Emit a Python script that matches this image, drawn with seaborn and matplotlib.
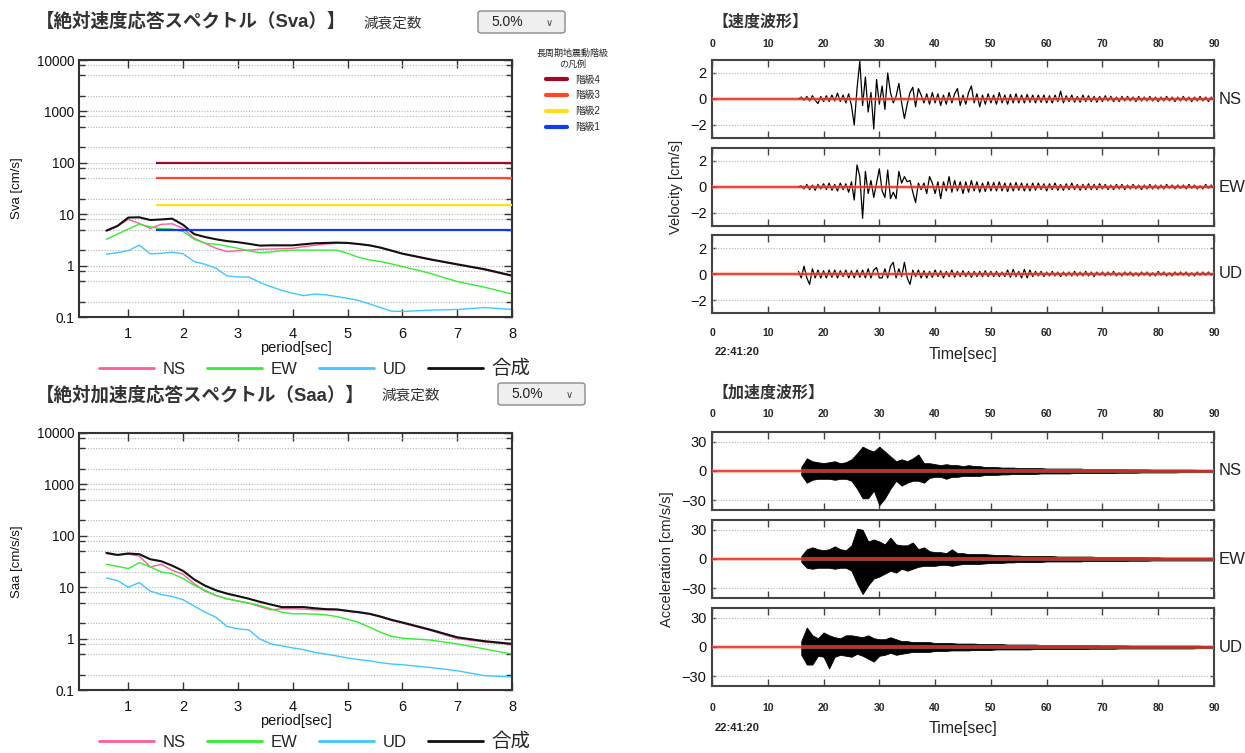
"""
Long-period ground motion report: absolute response spectra (Sva / Saa)
and three-component velocity / acceleration waveforms.
"""
import numpy as np
import pandas as pd
import matplotlib
matplotlib.use('Agg')
import matplotlib.pyplot as plt
import seaborn as sns
from matplotlib.lines import Line2D
from matplotlib.patches import FancyBboxPatch
from matplotlib.ticker import FixedLocator, NullFormatter

sns.set_style('ticks')
plt.rcParams['font.family'] = ['Liberation Sans', 'Noto Sans CJK JP', 'DejaVu Sans']

# --- 1. spectra (period [s] -> response) ---
periods = [0.6, 0.8, 1.0, 1.2, 1.4, 1.6, 1.8, 2.0, 2.2, 2.4, 2.6, 2.8, 3.0, 3.2, 3.4, 3.6,
           3.8, 4.0, 4.2, 4.4, 4.6, 4.8, 5.0, 5.2, 5.4, 5.6, 5.8, 6.0, 6.5, 7.0, 7.5, 8.0]

sva_ns = [4.7, 5.8, 7.9, 6.6, 5.3, 6.35, 6.5, 5.3, 3.4, 2.72, 2.17, 1.87, 1.96, 2.0, 2.08, 2.1,
          2.13, 2.17, 2.34, 2.48, 2.63, 2.72, 2.74, 2.62, 2.46, 2.22, 1.94, 1.69, 1.31, 1.04, 0.83, 0.62]
sva_ew = [3.25, 4.1, 5.15, 6.4, 5.7, 5.2, 5.15, 4.6, 3.25, 2.72, 2.6, 2.4, 2.17, 1.93, 1.79, 1.84,
          1.96, 2.0, 2.0, 2.0, 2.0, 2.0, 1.74, 1.45, 1.29, 1.2, 1.08, 0.96, 0.71, 0.49, 0.38, 0.28]
sva_ud = [1.66, 1.79, 1.96, 2.5, 1.7, 1.73, 1.82, 1.7, 1.2, 1.06, 0.89, 0.63, 0.6, 0.6, 0.47, 0.39,
          0.33, 0.29, 0.26, 0.28, 0.27, 0.25, 0.23, 0.21, 0.18, 0.153, 0.13, 0.128, 0.136, 0.14, 0.153, 0.14]
sva_sum = [4.8, 5.9, 8.6, 8.7, 7.7, 7.9, 8.2, 6.2, 4.1, 3.6, 3.25, 3.0, 2.85, 2.65, 2.45, 2.48,
           2.48, 2.48, 2.6, 2.72, 2.76, 2.8, 2.76, 2.63, 2.48, 2.24, 1.96, 1.71, 1.33, 1.06, 0.85, 0.64]

saa_ns = [45, 42, 44, 40, 24.8, 27.9, 21.3, 17.8, 11.7, 8.4, 6.9, 5.96, 5.4, 4.9, 4.2, 3.63,
          3.8, 3.8, 3.75, 3.63, 3.63, 3.6, 3.4, 3.2, 2.98, 2.62, 2.26, 2.0, 1.45, 1.0, 0.86, 0.77]
saa_ew = [27.9, 25.5, 23, 30.1, 24.8, 19.8, 18.4, 14.7, 10.9, 8.7, 6.9, 5.96, 5.37, 4.9, 4.4, 3.8,
          3.27, 3.04, 3.04, 3.0, 2.9, 2.69, 2.39, 2.06, 1.67, 1.33, 1.11, 1.02, 0.94, 0.79, 0.63, 0.5]
saa_ud = [15.1, 13.5, 10, 12.3, 8.4, 7.2, 6.6, 5.7, 4.3, 3.25, 2.6, 1.72, 1.55, 1.48, 0.98, 0.79,
          0.72, 0.66, 0.61, 0.54, 0.5, 0.46, 0.42, 0.39, 0.37, 0.34, 0.32, 0.31, 0.275, 0.237, 0.19, 0.18]
saa_sum = [46.5, 42.5, 45.2, 43.8, 35, 32, 26.3, 20.7, 14.2, 10.7, 8.7, 7.5, 6.7, 5.96, 5.2, 4.6,
           4.1, 4.1, 4.1, 3.9, 3.74, 3.7, 3.47, 3.27, 3.04, 2.69, 2.32, 2.06, 1.5, 1.06, 0.89, 0.79]

comp_names = ['NS', 'EW', 'UD', '合成']
comp_colors = ['#ff5c9d', '#33ee33', '#3fc8ff', '#111111']

# long-period ground motion class thresholds (Sva)
class_names = ['階級4', '階級3', '階級2', '階級1']
class_levels = [100, 50, 15, 5]
class_colors = ['#a00a28', '#ff4626', '#ffe119', '#0f3cf0']
class_from = 1.5

# --- 2. waveforms ---
vel_t = np.arange(15.5, 90.01, 0.5)   # sample times of the velocity values below
vel_ns = [0, 0.15, -0.1, 0.2, -0.15, 0.25, -0.1, -0.35, 0.2, -0.2,
          0.25, -0.2, 0.3, -0.15, 0.45, -0.2, 0.3, -0.3, 0.4, -0.5,
          -2.0, 0.8, 2.9, -0.5, 1.7, -1.0, 0.5, -2.3, 1.5, -0.4,
          1.0, -0.8, 2.0, 0.5, -0.3, 0.2, 1.2, -0.3, -1.5, -0.4,
          0.5, 0.9, -0.6, 0.8, 0.3, -0.3, 0.4, -0.4, 0.5, -0.3,
          0.4, -0.5, 0.3, -0.4, 0.5, -0.3, 0.4, 0.8, -0.5, 0.3,
          -0.4, 0.5, 1.0, -0.3, 0.4, -0.6, 0.3, -0.4, 0.4, -0.3,
          0.3, -0.4, 0.5, -0.3, 0.3, -0.4, 0.35, -0.3, 0.4, -0.3,
          0.3, -0.3, 0.35, -0.25, 0.3, -0.3, 0.3, -0.25, 0.3, -0.3,
          0.25, -0.3, 0.3, -0.2, 0.6, -0.3, 0.25, -0.2, 0.3, -0.25,
          0.2, -0.25, 0.3, -0.2, 0.25, -0.2, 0.2, -0.25, 0.2, -0.2,
          0.25, -0.15, 0.2, -0.2, 0.15, -0.2, 0.2, -0.15, 0.2, -0.15,
          0.15, -0.2, 0.2, -0.15, 0.15, -0.15, 0.2, -0.15, 0.15, -0.2,
          0.15, -0.15, 0.2, -0.15, 0.15, -0.2, 0.15, -0.15, 0.2, -0.15,
          0.15, -0.2, 0.15, -0.15, 0.2, -0.15, 0.15, -0.2, 0.15, -0.1]
vel_ew = [0, 0.1, -0.15, 0.2, -0.2, 0.15, -0.25, 0.2, -0.15, 0.25,
          -0.2, 0.3, -0.25, 0.2, -0.3, 0.3, -0.2, 0.25, -0.4, 0.4,
          -1.0, 1.7, 0.8, -2.4, 1.2, -0.5, 0.5, -0.8, 0.3, 1.4,
          -0.3, -0.8, 1.3, -0.9, -0.4, -0.9, 1.2, 0.3, 0.8, 0.4,
          0.5, -0.4, -1.2, 0.3, -0.2, 0.3, -0.5, 0.8, 0.3, -0.5,
          0.4, -0.9, 0.4, -0.3, 0.8, -0.4, 0.5, -0.3, 0.4, -0.5,
          0.4, -0.4, 0.5, -0.3, 0.4, -0.4, 0.3, -0.35, 0.4, -0.3,
          0.35, -0.3, 0.4, -0.3, 0.3, -0.35, 0.3, -0.3, 0.35, -0.25,
          0.3, -0.3, 0.25, -0.3, 0.3, -0.25, 0.3, -0.2, 0.25, -0.3,
          0.25, -0.2, 0.3, -0.25, 0.2, -0.25, 0.25, -0.2, 0.3, -0.2,
          0.2, -0.25, 0.2, -0.2, 0.25, -0.2, 0.2, -0.2, 0.25, -0.15,
          0.2, -0.2, 0.15, -0.2, 0.2, -0.15, 0.2, -0.2, 0.15, -0.15,
          0.2, -0.15, 0.15, -0.2, 0.15, -0.15, 0.2, -0.15, 0.15, -0.15,
          0.15, -0.15, 0.2, -0.1, 0.15, -0.15, 0.15, -0.1, 0.15, -0.15,
          0.2, -0.1, 0.15, -0.15, 0.1, -0.15, 0.2, -0.1, 0.15, -0.1]
vel_ud = [0.2, -0.3, 0.6, -0.3, -0.8, 0.4, -0.3, 0.3, -0.3, 0.25,
          -0.3, 0.3, -0.25, 0.3, -0.3, 0.25, -0.2, 0.3, -0.3, 0.25,
          -0.3, 0.3, -0.25, 0.3, -0.3, 0.4, -0.3, 0.3, 0.5, -0.3,
          -0.3, 0.4, -0.3, 0.6, 0.9, -0.3, 0.4, -0.2, 0.9, -0.3,
          -0.8, 0.3, -0.2, 0.3, -0.3, 0.25, -0.3, 0.2, -0.25, 0.3,
          -0.2, 0.25, -0.3, 0.2, -0.2, 0.3, -0.25, 0.2, -0.2, 0.25,
          -0.2, 0.2, -0.25, 0.2, -0.2, 0.2, -0.2, 0.25, -0.2, 0.2,
          -0.2, 0.2, -0.2, 0.15, -0.2, 0.3, -0.25, 0.35, -0.2, 0.2,
          -0.3, 0.35, -0.3, 0.3, -0.2, 0.2, -0.15, 0.2, -0.2, 0.15,
          -0.15, 0.2, -0.15, 0.15, -0.2, 0.15, -0.15, 0.15, -0.15, 0.2,
          -0.15, 0.15, -0.15, 0.2, -0.15, 0.15, -0.2, 0.15, -0.1, 0.15,
          -0.15, 0.15, -0.1, 0.2, -0.15, 0.1, -0.15, 0.15, -0.1, 0.15,
          -0.15, 0.1, -0.15, 0.15, -0.1, 0.15, -0.15, 0.1, -0.15, 0.2,
          -0.1, 0.15, -0.15, 0.1, -0.15, 0.15, -0.1, 0.15, -0.1, 0.15,
          -0.15, 0.1, -0.15, 0.15, -0.1, 0.15, -0.1, 0.15, -0.1, 0.1]

# acceleration: upper / lower envelope of the trace, one value per second
acc_t = np.arange(16, 90.01, 1.0)
acc_ns_hi = [4, 13, 10, 9, 8, 9, 10, 8, 9, 12,
             18, 25, 22, 20, 25, 20, 15, 10, 12, 10,
             13, 17, 8, 8, 7, 6, 7, 6, 6, 5,
             6, 5, 5, 4, 4, 4, 3.5, 3.5, 3.5, 3,
             3, 3, 3, 3, 2.5, 2.5, 2.5, 2.5, 2.5, 2.5,
             2.5, 2, 2, 2, 2, 2, 2, 2, 2, 1.8,
             1.8, 1.8, 1.8, 1.5, 1.5, 1.5, 1.5, 1.5, 1.5, 1.5,
             1.5, 1.2, 1.2, 1.2, 1.2]
acc_ns_lo = [-4, -12, -9, -8, -8, -8, -9, -8, -8, -10,
             -18, -28, -28, -20, -35, -28, -18, -10, -15, -12,
             -10, -10, -12, -7, -6, -6, -8, -6, -6, -5,
             -5, -5, -5, -4, -4, -4, -3.5, -3.5, -3, -3,
             -3, -3, -3, -2.5, -2.5, -2.5, -2.5, -2.5, -2.5, -2,
             -2, -2, -2, -2, -2, -2, -2, -1.8, -1.8, -1.8,
             -1.8, -1.5, -1.5, -1.5, -1.5, -1.5, -1.5, -1.5, -1.2, -1.2,
             -1.2, -1.2, -1.2, -1.2, -1.2]
acc_ew_hi = [3, 10, 12, 10, 9, 10, 13, 10, 9, 14,
             31, 30, 18, 20, 18, 15, 22, 15, 14, 14,
             17, 10, 12, 8, 7, 7, 6, 10, 6, 6,
             5, 5, 5, 5, 4.5, 4, 4, 4, 3.5, 3.5,
             3, 3, 3, 3, 3, 3, 2.5, 2.5, 2.5, 2.5,
             2.5, 2.5, 2.5, 2, 2, 2, 2, 2, 2, 2,
             2, 2, 1.8, 1.8, 1.8, 1.5, 1.5, 1.5, 1.5, 1.5,
             1.5, 1.5, 1.5, 1.5, 1.5]
acc_ew_lo = [-3, -9, -10, -9, -9, -9, -10, -9, -9, -12,
             -25, -36, -27, -20, -18, -15, -12, -14, -10, -12,
             -10, -8, -7, -7, -7, -6, -6, -7, -6, -5,
             -5, -5, -5, -4.5, -4, -4, -4, -3.5, -3.5, -3,
             -3, -3, -3, -3, -2.5, -2.5, -2.5, -2.5, -2.5, -2.5,
             -2.5, -2, -2, -2, -2, -2, -2, -2, -2, -1.8,
             -1.8, -1.8, -1.8, -1.5, -1.5, -1.5, -1.5, -1.5, -1.5, -1.5,
             -1.5, -1.5, -1.5, -1.5, -1.5]
acc_ud_hi = [6, 20, 12, 9, 15, 12, 10, 9, 12, 12,
             11, 10, 12, 9, 8, 8, 10, 8, 6, 6,
             5, 5, 5, 5, 4, 4, 4, 4, 3.5, 3.5,
             3.5, 3.5, 3, 3, 3, 3, 3, 2.5, 2.5, 2.5,
             2.5, 2.5, 2.5, 2, 2, 2, 2, 2, 2, 2,
             2, 2, 2, 2, 1.8, 1.8, 1.8, 1.8, 1.8, 1.5,
             1.5, 1.5, 1.5, 1.5, 1.5, 1.5, 1.5, 1.5, 1.5, 1.5,
             1.5, 1.5, 1.2, 1.2, 1.2]
acc_ud_lo = [-8, -18, -18, -9, -10, -22, -10, -8, -9, -10,
             -7, -9, -12, -15, -9, -8, -6, -8, -7, -6,
             -5, -5, -5, -5, -4, -4, -4, -3.5, -3.5, -3.5,
             -3.5, -3, -3, -3, -3, -2.5, -2.5, -2.5, -2.5, -2.5,
             -2.5, -2.5, -2, -2, -2, -2, -2, -2, -2, -2,
             -2, -2, -1.8, -1.8, -1.8, -1.8, -1.8, -1.5, -1.5, -1.5,
             -1.5, -1.5, -1.5, -1.5, -1.5, -1.5, -1.5, -1.5, -1.5, -1.5,
             -1.5, -1.2, -1.2, -1.2, -1.2]

time_ticks = list(range(0, 91, 10))
start_clock = '22:41:20'

TXT = '#333333'
fig = plt.figure(figsize=(12.45, 7.53), dpi=100)


def fx(px):
    return px / 1245


def fy(py):
    return 1 - py / 753


def dropdown(x0, y0):
    box = FancyBboxPatch((fx(x0), fy(y0 + 22)), fx(87), 22 / 753,
                         boxstyle='round,pad=0,rounding_size=0.003',
                         transform=fig.transFigure, fc='#efefef', ec='#8a8a8a', lw=1)
    fig.patches.append(box)
    fig.text(fx(x0 + 29), fy(y0 + 11), '5.0%', fontsize=10, ha='center', va='center', color='#222')
    fig.text(fx(x0 + 71), fy(y0 + 12), '∨', fontsize=7, ha='center', va='center', color='#444',
             family='DejaVu Sans')


def draw_spectrum(rect, series, ylabel):
    ax = fig.add_axes(rect)
    for name, color, vals in zip(comp_names, comp_colors, series):
        sns.lineplot(x=periods, y=vals, color=color, lw=1.5 if name == '合成' else 1.0, ax=ax)
    ax.set_yscale('log')
    ax.set_xlim(0.1, 8.0)
    ax.set_ylim(0.1, 10000)
    ax.set_xticks(range(1, 9))
    ax.yaxis.set_major_locator(FixedLocator([0.1, 1, 10, 100, 1000, 10000]))
    ax.set_yticklabels(['0.1', '1', '10', '100', '1000', '10000'])
    minor = [m * 10.0 ** e for e in range(-1, 4) for m in (2, 5, 8)]
    ax.yaxis.set_minor_locator(FixedLocator(minor))
    ax.yaxis.set_minor_formatter(NullFormatter())
    ax.grid(axis='y', which='both', color='#b5b5b5', ls=(0, (1, 1.5)), lw=0.8)
    ax.tick_params(which='both', direction='in', top=True, right=True, color='#333',
                   labelcolor='#111')
    ax.tick_params(axis='x', pad=7, labelsize=10.5)
    ax.tick_params(axis='y', labelsize=9.8)
    ax.tick_params(which='major', length=6, width=1)
    ax.tick_params(which='minor', length=4, width=1)
    for sp in ax.spines.values():
        sp.set_color('#333')
        sp.set_linewidth(1.5)
    ax.set_xlabel('period[sec]', fontsize=10.5, labelpad=0, color='#111')
    ax.set_ylabel(ylabel, fontsize=9.5, color='#111')
    ax.yaxis.set_label_coords(-0.129, 0.5)
    handles = [Line2D([], [], color=c, lw=2) for c in comp_colors]
    leg = ax.legend(handles, comp_names, loc='center', bbox_to_anchor=(0.545, -0.2), ncol=4,
                    frameon=False, fontsize=12, handlelength=3.3, handletextpad=0.5,
                    columnspacing=1.3)
    leg.get_texts()[3].set_fontsize(14)
    return ax


# --- spectra ---
ax_sva = draw_spectrum([fx(79), fy(317), fx(433), 257 / 753], [sva_ns, sva_ew, sva_ud, sva_sum],
                       'Sva [cm/s]')
ax_sva.hlines(class_levels, class_from, 8.0, colors=class_colors, lw=1.6, zorder=3)
class_handles = [Line2D([], [], color=c, lw=3) for c in class_colors]
cleg = fig.legend(class_handles, class_names, loc='upper left', bbox_to_anchor=(fx(532), fy(44)),
                  frameon=False, fontsize=7, title='長周期地震動階級\nの凡例', title_fontsize=6.5,
                  handlelength=2.2, handletextpad=0.8, labelspacing=0.6, borderpad=0)
cleg.get_title().set_multialignment('center')

ax_saa = draw_spectrum([fx(79), fy(690), fx(433), 257 / 753], [saa_ns, saa_ew, saa_ud, saa_sum],
                       'Saa [cm/s/s]')

fig.text(fx(36), fy(22), '【絶対速度応答スペクトル（Sva）】', fontsize=13.3, weight='bold',
         va='center', color=TXT)
fig.text(fx(363), fy(24), '減衰定数', fontsize=10.5, va='center', color=TXT)
dropdown(478, 11)
fig.text(fx(36), fy(395), '【絶対加速度応答スペクトル（Saa）】', fontsize=13.3, weight='bold',
         va='center', color=TXT)
fig.text(fx(381), fy(396), '減衰定数', fontsize=10.5, va='center', color=TXT)
dropdown(498, 383)


# --- waveforms ---
def wave_panel(top_px, ylim, yticks):
    ax = fig.add_axes([fx(712), fy(top_px + 78), fx(502), 78 / 753])
    ax.set_xlim(0, 90)
    ax.set_ylim(-ylim, ylim)
    ax.set_yticks(yticks)
    ax.set_yticklabels([str(v).replace('-', '\u2212') for v in yticks])
    ax.set_xticks(time_ticks, labels=[str(v) for v in time_ticks], fontsize=7.5,
                  fontweight='bold')
    for v in (yticks[0], yticks[-1]):
        ax.axhline(v, color='#b5b5b5', ls=(0, (1, 1.5)), lw=0.8, zorder=1)
    ax.axhline(0, color='#ff8a7a', lw=3, alpha=0.5, zorder=3)
    ax.axhline(0, color='#e0251b', lw=1.1, zorder=4)
    ax.tick_params(axis='x', direction='in', top=True, bottom=True, length=5, width=1,
                   color='#444', labelbottom=False, labeltop=False, pad=8)
    ax.tick_params(axis='y', direction='in', left=True, right=True, length=3, width=1,
                   color='#444', labelsize=10.5, labelcolor='#111', pad=4)
    for sp in ax.spines.values():
        sp.set_color('#444')
        sp.set_linewidth(1.5)
    return ax


def wave_group(tops, ylim, yticks, traces, kind, title, title_py, ylabel, label_x,
               top_pad, bottom_pad, clock_py):
    axes = [wave_panel(tp, ylim, yticks) for tp in tops]
    for ax, name, tr in zip(axes, ['NS', 'EW', 'UD'], traces):
        if kind == 'line':
            sns.lineplot(x=vel_t, y=tr, color='black', lw=0.9, ax=ax, zorder=2)
        else:
            ax.fill_between(acc_t, tr[1], tr[0], color='black', lw=0.6, zorder=2)
        ax.text(1.01, 0.5, name, transform=ax.transAxes, ha='left', va='center',
                fontsize=12, color='#222')
    axes[0].tick_params(axis='x', labeltop=True, pad=top_pad)
    axes[-1].tick_params(axis='x', labelbottom=True, pad=bottom_pad)
    axes[-1].set_xlabel('Time[sec]', fontsize=11.5, color='#222', labelpad=6)
    axes[-1].xaxis.label.set_visible(True)
    axes[1].set_ylabel(ylabel, fontsize=10.5, color='#222')
    axes[1].yaxis.label.set_visible(True)
    axes[1].yaxis.set_label_coords(label_x, 0.5)
    fig.text(fx(712), fy(title_py), title, fontsize=11.5, weight='bold', va='center', color=TXT)
    fig.text(fx(737), fy(clock_py), start_clock, fontsize=8, weight='bold',
             ha='center', va='center', color='#222')
    return axes


wave_group([60, 148, 235], 3, [-2, 0, 2], [vel_ns, vel_ew, vel_ud], 'line',
           '【速度波形】', 22, 'Velocity [cm/s]', -0.058, 8, 11, 352)
wave_group([432, 520, 608], 40, [-30, 0, 30],
           [(acc_ns_hi, acc_ns_lo), (acc_ew_hi, acc_ew_lo), (acc_ud_hi, acc_ud_lo)], 'fill',
           '【加速度波形】', 393, 'Acceleration [cm/s/s]', -0.076, 9.5, 12, 728)

plt.savefig('out.png', dpi=100)
plt.close()
print("Saved: out.png")
